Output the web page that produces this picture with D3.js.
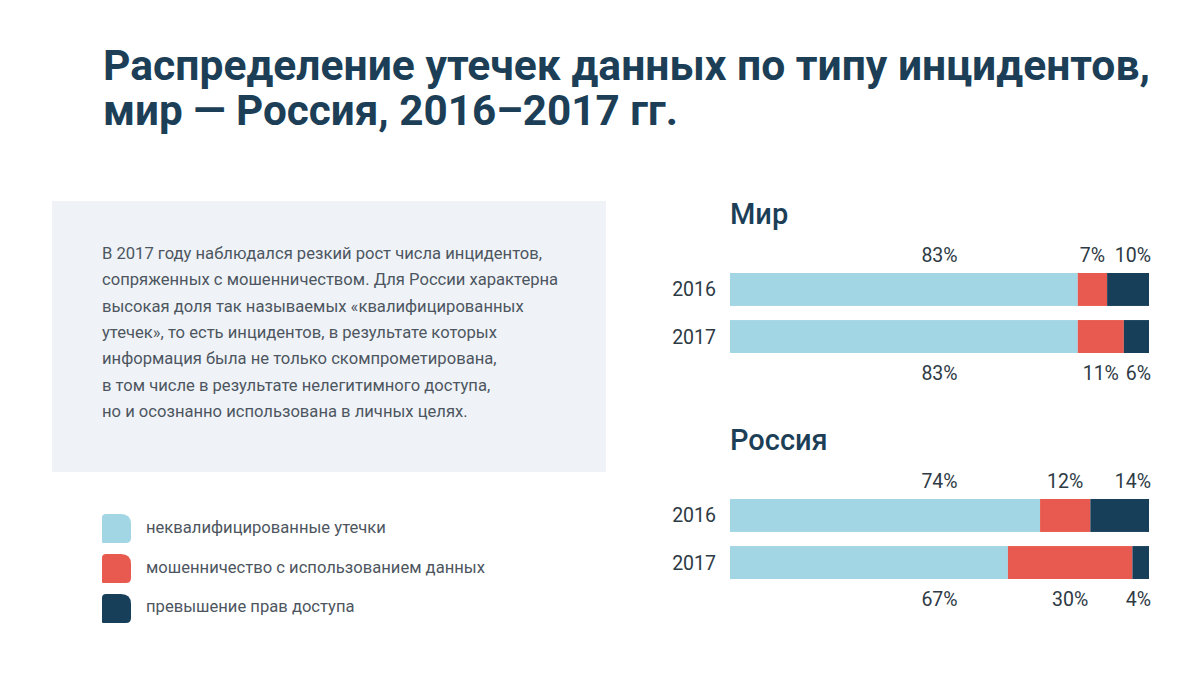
<!DOCTYPE html>
<html><head><meta charset="utf-8">
<script src="https://cdn.jsdelivr.net/npm/d3@7/dist/d3.min.js"></script>
<style>
html,body{margin:0;padding:0;background:#fff;}
svg{display:block;}
</style></head>
<body>
<svg id="c" width="1200" height="674"></svg>
<script>
const titleLines = ["Распределение утечек данных по типу инцидентов,", "мир — Россия, 2016–2017 гг."];
const bodyLines = [
  "В 2017 году наблюдался резкий рост числа инцидентов,",
  "сопряженных с мошенничеством. Для России характерна",
  "высокая доля так называемых «квалифицированных",
  "утечек», то есть инцидентов, в результате которых",
  "информация была не только скомпрометирована,",
  "в том числе в результате нелегитимного доступа,",
  "но и осознанно использована в личных целях."
];
const seriesKeys = ["unqualified", "fraud", "abuse"];
const seriesNames = ["неквалифицированные утечки", "мошенничество с использованием данных", "превышение прав доступа"];
const seriesColors = ["#a3d6e5", "#e85a50", "#173f5a"];
const years = ["2016", "2017"];
const panels = ["Мир", "Россия"];
const worldValues = [
  {year: "2016", unqualified: 83, fraud: 7, abuse: 10},
  {year: "2017", unqualified: 83, fraud: 11, abuse: 6}
];
const russiaValues = [
  {year: "2016", unqualified: 74, fraud: 12, abuse: 14},
  {year: "2017", unqualified: 67, fraud: 30, abuse: 4}
];

const svg = d3.select("#c");
const navy = "#1c3f57";
const grey = "#4d5660";

// Title
const title = svg.append("g");
title.selectAll("text").data(titleLines).join("text")
  .attr("x", 103).attr("y", (d,i) => 80 + i*45)
  .attr("font-family", "Roboto, 'Noto Sans', sans-serif")
  .attr("font-weight", 700).attr("font-size", 42)
  .attr("fill", navy)
  .attr("textLength", (d,i) => i === 0 ? 1047 : 575)
  .attr("lengthAdjust", "spacingAndGlyphs")
  .text(d => d);

// Text box
svg.append("rect").attr("x", 52).attr("y", 201).attr("width", 554).attr("height", 271).attr("fill", "#eff3f8");
svg.append("g").selectAll("text").data(bodyLines).join("text")
  .attr("x", 102).attr("y", (d,i) => 259 + i*26.3)
  .attr("font-family", "Roboto, sans-serif").attr("font-weight", 400).attr("font-size", 16.6)
  .attr("fill", grey)
  .text(d => d);

// Legend
function leaf(x, y, s) {
  const tl = 4, tr = 10, br = 5, bl = 1;
  return `M${x+tl},${y} H${x+s-tr} Q${x+s},${y} ${x+s},${y+tr} V${y+s-br} Q${x+s},${y+s} ${x+s-br},${y+s} H${x+bl} Q${x},${y+s} ${x},${y+s-bl} V${y+tl} Q${x},${y} ${x+tl},${y} Z`;
}
const legend = svg.append("g");
seriesNames.forEach((n, i) => {
  legend.append("path").attr("d", leaf(102, 514 + i*40, 29)).attr("fill", seriesColors[i]);
  legend.append("text").attr("x", 146).attr("y", 533 + i*39.5)
    .attr("font-family", "Roboto, sans-serif").attr("font-size", 16.6).attr("fill", grey)
    .text(n);
});

// Panels
const x0 = 730, x1 = 1149;
const x = d3.scaleLinear().domain([0, 1]).range([x0, x1]);
const stack = d3.stack().keys(seriesKeys).offset(d3.stackOffsetExpand);
const color = d3.scaleOrdinal().domain(seriesKeys).range(seriesColors);

function panel(name, values, top) {
  const g = svg.append("g");
  g.append("text").attr("x", 730).attr("y", top)
    .attr("font-family", "Roboto, sans-serif").attr("font-weight", 500).attr("font-size", 29)
    .attr("fill", navy).text(name);
  const y = d3.scaleBand().domain(years).range([top + 49, top + 129]).paddingInner(0.3);
  const series = stack(values);
  g.selectAll("g.s").data(series).join("g").attr("class", "s").attr("fill", d => color(d.key))
    .selectAll("rect").data(d => d).join("rect")
    .attr("x", d => x(d[0])).attr("width", d => x(d[1]) - x(d[0]))
    .attr("y", d => y(d.data.year)).attr("height", y.bandwidth());
  // year labels
  g.selectAll("text.yr").data(years).join("text").attr("class", "yr")
    .attr("x", 716).attr("y", d => y(d) + y.bandwidth()/2 + 7)
    .attr("text-anchor", "end")
    .attr("font-family", "Roboto, sans-serif").attr("font-size", 19.5).attr("fill", "#2e3a44")
    .text(d => d);
  // value labels
  values.forEach((row, ri) => {
    const ly = ri === 0 ? y(row.year) - 11 : y(row.year) + y.bandwidth() + 27;
    series.forEach((s, si) => {
      const seg = s[ri];
      let lx, anchor;
      if (si === 0) { lx = x(0.5); anchor = "middle"; }
      else if (si === 1) { lx = (x(seg[0]) + x(seg[1]))/2; anchor = "middle"; }
      else { lx = x(1) + 2; anchor = "end"; }
      g.append("text").attr("x", lx).attr("y", ly).attr("text-anchor", anchor)
        .attr("font-family", "Roboto, sans-serif").attr("font-size", 19.5).attr("fill", "#2e3a44")
        .text(row[s.key] + "%");
    });
  });
}
panel(panels[0], worldValues, 224);
panel(panels[1], russiaValues, 450);
</script>
</body></html>
